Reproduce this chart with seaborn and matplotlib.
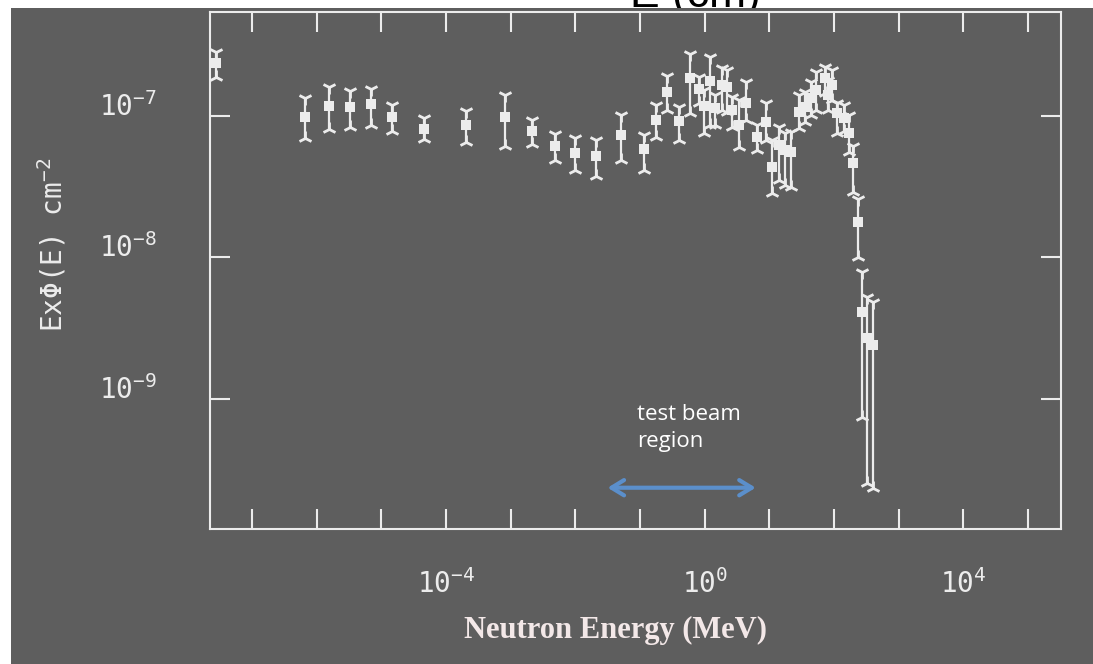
import matplotlib
matplotlib.use("Agg")
import matplotlib.pyplot as plt
import matplotlib.transforms as mtransforms
from matplotlib.patches import Rectangle
import numpy as np
import pandas as pd
import seaborn as sns

# ---------------- data ----------------
energy_mev = [2.8e-8, 6.7e-7, 1.57e-6, 3.3e-6, 7.0e-6, 1.48e-5, 4.6e-5, 2.07e-4,
              8.3e-4, 2.17e-3, 4.8e-3, 1.0e-2, 2.1e-2, 5.0e-2, 0.114, 0.174,
              0.258, 0.396, 0.586, 0.81, 0.965, 1.2, 1.43, 1.83, 2.19, 2.62,
              3.36, 4.3, 6.4, 8.8, 10.9, 14.0, 17.3, 22.0, 28.5, 35.0, 43.7,
              52.0, 72.0, 80.0, 92.0, 110.0, 142.0, 169.0, 195.0, 234.0, 269.0,
              322.0, 399.0]
flux = [2.37e-7, 0.984e-7, 1.18e-7, 1.16e-7, 1.22e-7, 0.984e-7, 0.809e-7, 0.863e-7,
        0.984e-7, 0.783e-7, 0.614e-7, 0.548e-7, 0.521e-7, 0.735e-7, 0.585e-7, 0.938e-7,
        1.48e-7, 0.923e-7, 1.86e-7, 1.55e-7, 1.18e-7, 1.77e-7, 1.14e-7, 1.66e-7,
        1.60e-7, 1.10e-7, 0.863e-7, 1.24e-7, 0.711e-7, 0.908e-7, 0.437e-7, 0.624e-7,
        0.575e-7, 0.557e-7, 1.07e-7, 1.16e-7, 1.34e-7, 1.53e-7, 1.86e-7, 1.41e-7,
        1.66e-7, 1.05e-7, 0.968e-7, 0.759e-7, 0.466e-7, 0.178e-7, 0.0412e-7,
        0.0270e-7, 0.0241e-7]
flux_hi = [2.83e-7, 1.34e-7, 1.60e-7, 1.50e-7, 1.55e-7, 1.20e-7, 0.968e-7, 1.08e-7,
           1.41e-7, 0.938e-7, 0.746e-7, 0.700e-7, 0.676e-7, 1.02e-7, 0.735e-7, 1.20e-7,
           1.92e-7, 1.16e-7, 2.74e-7, 1.89e-7, 1.53e-7, 2.61e-7, 1.41e-7, 2.18e-7,
           2.11e-7, 1.36e-7, 1.30e-7, 1.74e-7, 0.863e-7, 1.24e-7, 0.676e-7, 0.836e-7,
           0.759e-7, 0.771e-7, 1.41e-7, 1.48e-7, 1.74e-7, 2.05e-7, 2.22e-7, 1.79e-7,
           2.11e-7, 1.24e-7, 1.20e-7, 1.02e-7, 0.614e-7, 0.259e-7, 0.0791e-7,
           0.0526e-7, 0.0485e-7]
flux_lo = [1.89e-7, 0.700e-7, 0.809e-7, 0.836e-7, 0.863e-7, 0.783e-7, 0.687e-7, 0.655e-7,
           0.614e-7, 0.634e-7, 0.489e-7, 0.415e-7, 0.377e-7, 0.489e-7, 0.415e-7, 0.711e-7,
           1.10e-7, 0.676e-7, 1.05e-7, 1.24e-7, 0.759e-7, 0.863e-7, 0.863e-7, 1.10e-7,
           1.07e-7, 0.836e-7, 0.604e-7, 0.938e-7, 0.575e-7, 0.676e-7, 0.286e-7, 0.353e-7,
           0.325e-7, 0.315e-7, 0.822e-7, 0.908e-7, 1.02e-7, 1.10e-7, 1.46e-7, 1.10e-7,
           1.30e-7, 0.759e-7, 0.783e-7, 0.557e-7, 0.290e-7, 0.101e-7, 0.00746e-7,
           0.00255e-7, 0.00235e-7]

x_ticks = [1e-7, 1e-6, 1e-5, 1e-4, 1e-3, 1e-2, 1e-1, 1e0, 1e1, 1e2, 1e3, 1e4, 1e5]
x_labeled = {1e-4: r"$10^{-4}$", 1e0: r"$10^{0}$", 1e4: r"$10^{4}$"}
y_ticks = [1e-9, 1e-8, 1e-7]
y_labels = [r"$10^{-9}$", r"$10^{-8}$", r"$10^{-7}$"]
beam_region = (0.0315, 6.16)
beam_y = 2.35e-10

# ---------------- style ----------------
sns.set_style("ticks")
plt.rcParams["font.family"] = ["DejaVu Sans"]
plt.rcParams["mathtext.fontset"] = "custom"
plt.rcParams["mathtext.rm"] = "DejaVu Sans Mono"
plt.rcParams["mathtext.default"] = "rm"

GRAY = "#5e5e5e"
FG = "#ececec"
W, H = 1093, 664

fig = plt.figure(figsize=(W / 100, H / 100), dpi=100)
fig.patch.set_facecolor("white")

# cut-off title behind the gray panel (as in the original screenshot)
fig.text(630 / W, 1 - 7 / H, "E (cm)", fontsize=32, color="black",
         family="Liberation Sans", ha="left", va="baseline", zorder=0.5)
fig.add_artist(Rectangle((11 / W, 0), 1 - 11 / W, 1 - 8 / H,
                         transform=fig.transFigure, facecolor=GRAY,
                         edgecolor="none", zorder=1))

ax = fig.add_axes([210 / W, 1 - 529 / H, (1061 - 210) / W, (529 - 12) / H])
ax.set_zorder(2)
ax.set_facecolor("none")

df = pd.DataFrame({"E": energy_mev, "F": flux, "hi": flux_hi, "lo": flux_lo})

ax.vlines(df["E"], df["lo"], df["hi"], color=FG, lw=1.6, zorder=3)
ax.plot(df["E"], df["hi"], ls="none", marker="1", ms=10, mew=2.0, color=FG, zorder=3)
ax.plot(df["E"], df["lo"], ls="none", marker="2", ms=10, mew=2.0, color=FG, zorder=3)
sns.scatterplot(data=df, x="E", y="F", marker="s", s=55, color=FG,
                edgecolor=FG, linewidth=0, ax=ax, zorder=4)

ax.set_xscale("log")
ax.set_yscale("log")
ax.set_xlim(2.24e-8, 3.24e5)
ax.set_ylim(1.2e-10, 5.43e-7)

ax.set_xticks(x_ticks)
ax.set_yticks(y_ticks)
ax.xaxis.set_minor_locator(matplotlib.ticker.NullLocator())
ax.yaxis.set_minor_locator(matplotlib.ticker.NullLocator())
ax.set_xticklabels([])
ax.set_yticklabels([])
ax.tick_params(which="major", direction="in", length=14.5, width=1.5,
               color=FG, top=True, right=True)
for s in ax.spines.values():
    s.set_color(FG)
    s.set_linewidth(1.5)
    s.set_visible(True)
ax.set_xlabel("")
ax.set_ylabel("")

# tick labels placed manually (baseline aligned like the original)
xt = mtransforms.blended_transform_factory(ax.transData, fig.transFigure)
for v, lab in x_labeled.items():
    ax.text(v, 1 - 593 / H, lab, transform=xt, ha="center", va="baseline",
            fontsize=20, color=FG, family="DejaVu Sans Mono", clip_on=False)
yt = mtransforms.blended_transform_factory(fig.transFigure, ax.transData)
for v, lab in zip(y_ticks, y_labels):
    ax.text(157 / W, v, lab, transform=yt, ha="right", va="baseline",
            fontsize=20, color=FG, family="DejaVu Sans Mono", clip_on=False)

fig.text(52 / W, 1 - 245 / H, r"Ex$\Phi$(E) cm$^{-2}$", rotation=90,
         ha="center", va="center", fontsize=20, color=FG,
         family="DejaVu Sans Mono", zorder=3)

fig.text(615 / W, 1 - 630 / H, "Neutron Energy (MeV)", ha="center", va="center",
         fontsize=22, fontweight="bold", family="Liberation Serif",
         color="#f3e8e8", zorder=3)

# test beam region annotation
ax.annotate("", xy=(beam_region[1], beam_y), xytext=(beam_region[0], beam_y),
            arrowprops=dict(arrowstyle="<->,head_length=0.9,head_width=0.55",
                            color="#5b8fcb", lw=3, shrinkA=0, shrinkB=0),
            annotation_clip=False, zorder=5)
ax.text(637 / W, 1 - 404 / H, "test beam\nregion", transform=fig.transFigure,
        ha="left", va="top", fontsize=16, color="white", family="Open Sans",
        linespacing=1.35, clip_on=False)

fig.savefig("out.png", dpi=100, facecolor=fig.get_facecolor())
